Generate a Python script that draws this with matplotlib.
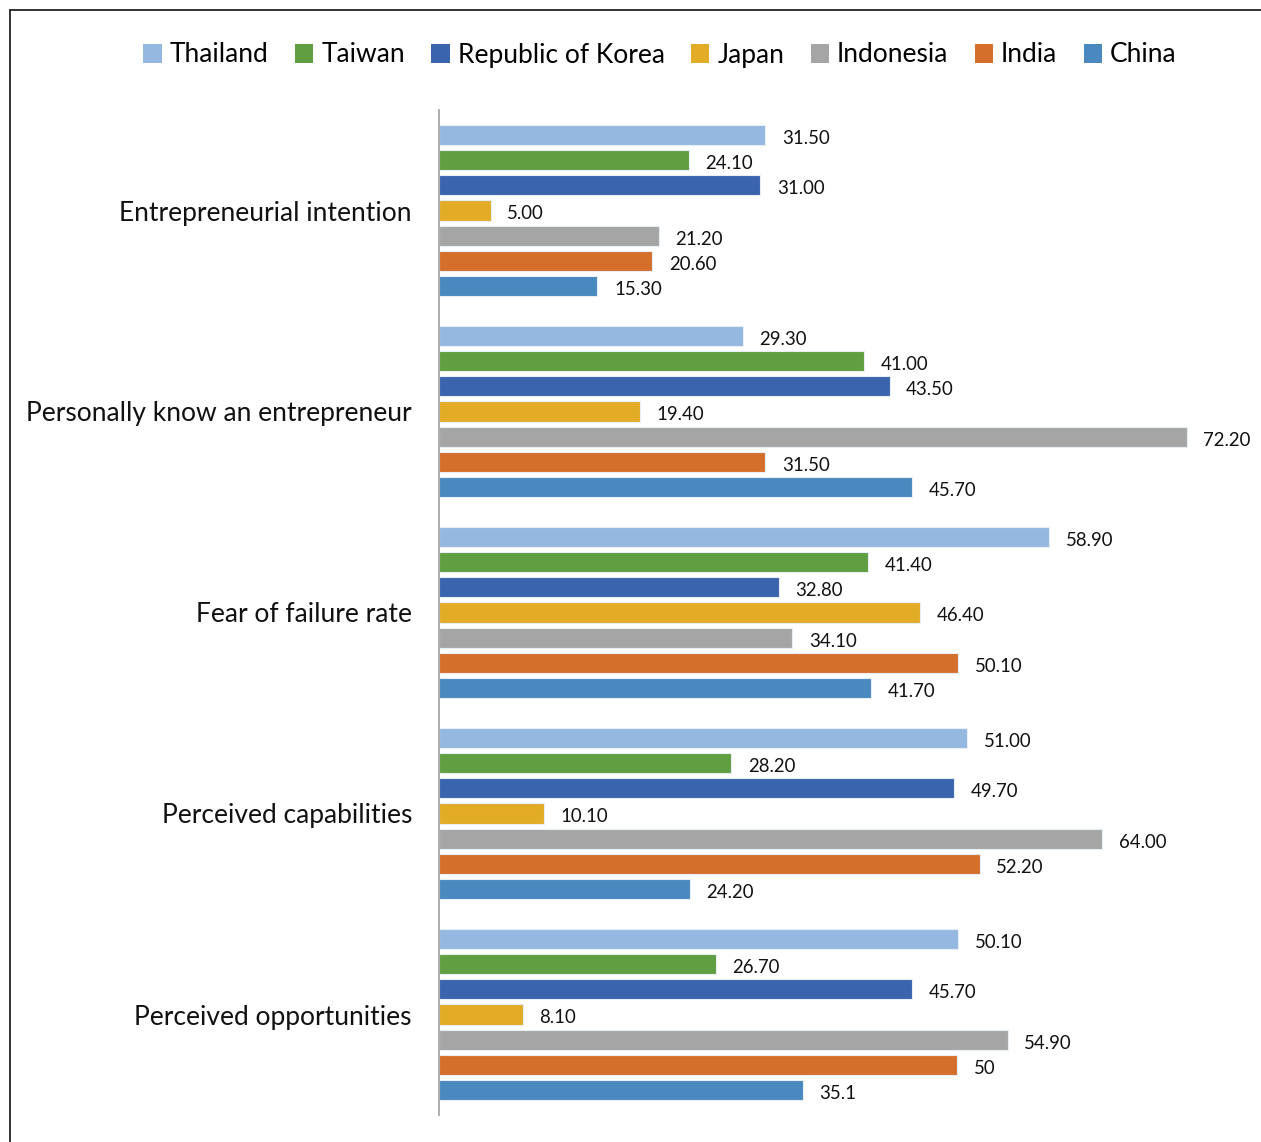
import matplotlib
matplotlib.use("Agg")
import matplotlib.pyplot as plt
from matplotlib.patches import Rectangle, Patch
from matplotlib.transforms import ScaledTranslation

plt.rcParams['font.family'] = ['Lato', 'DejaVu Sans']

categories = [
    "Entrepreneurial intention",
    "Personally know an entrepreneur",
    "Fear of failure rate",
    "Perceived capabilities",
    "Perceived opportunities",
]
countries = ["Thailand", "Taiwan", "Republic of Korea", "Japan", "Indonesia", "India", "China"]
colors = ["#95B8E0", "#5F9E41", "#3A64AE", "#E2AC27", "#A5A5A5", "#D56E2A", "#4A88C0"]

thailand = [31.50, 29.30, 58.90, 51.00, 50.10]
taiwan = [24.10, 41.00, 41.40, 28.20, 26.70]
korea = [31.00, 43.50, 32.80, 49.70, 45.70]
japan = [5.00, 19.40, 46.40, 10.10, 8.10]
indonesia = [21.20, 72.20, 34.10, 64.00, 54.90]
india = [20.60, 31.50, 50.10, 52.20, 50.00]
china = [15.30, 45.70, 41.70, 24.20, 35.10]
series = [thailand, taiwan, korea, japan, indonesia, india, china]

# labels printed in a shorter form for the last group
label_overrides = {(5, 4): "50", (6, 4): "35.1"}

W, H = 1261, 1142
fig = plt.figure(figsize=(W / 100, H / 100), dpi=100)
ax = fig.add_axes([439 / W, 1 - 1115 / H, (1247 - 439) / W, (1115 - 110) / H])

# nudge value labels so the digits sit on the bar's centre line
label_shift = ax.transData + ScaledTranslation(0, -2.5 / 72, fig.dpi_scale_trans)

n = len(countries)
slot = 8
for i, (vals, col) in enumerate(zip(series, colors)):
    ys = [slot * g + slot / 2 + (i - 3) for g in range(len(categories))]
    ax.barh(ys, vals, height=0.8, color=col, edgecolor="#E8EEF6", linewidth=0.8, zorder=2)
    for g, (y, v) in enumerate(zip(ys, vals)):
        txt = label_overrides.get((i, g), f"{v:.2f}")
        ax.text(v + 1.6, y, txt, va="center", ha="left", fontsize=13.4,
                color="#111111", transform=label_shift)

ax.set_xlim(0, 78)
ax.set_ylim(slot * len(categories), 0)
ax.set_yticks([slot * g + slot / 2 for g in range(len(categories))])
ax.set_yticklabels(categories, fontsize=19, color="#111111")
ax.tick_params(axis="y", length=0, pad=19.5)
ax.set_xticks([])
for s in ["top", "right", "bottom"]:
    ax.spines[s].set_visible(False)
ax.spines["left"].set_color("#A6A6A6")
ax.spines["left"].set_linewidth(1.3)

handles = [Patch(facecolor=c, edgecolor="none") for c in colors]
fig.legend(handles, countries, loc="center", bbox_to_anchor=(660 / W, 1 - 55 / H),
           ncol=n, frameon=False, fontsize=19, handlelength=0.7, handleheight=0.7,
           handletextpad=0.3, columnspacing=1.0)

fig.patches.append(Rectangle((10 / W, -0.1), 1.2, 1.1 - 10 / H, transform=fig.transFigure,
                             fill=False, edgecolor="#333333", linewidth=1.4))

fig.savefig("out.png", dpi=100, facecolor="white")
